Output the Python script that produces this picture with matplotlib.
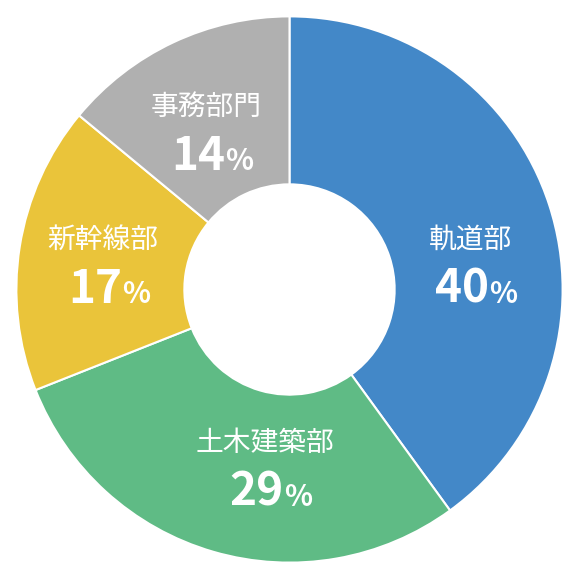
import numpy as np
import matplotlib
matplotlib.use("Agg")
import matplotlib.pyplot as plt

plt.rcParams['font.family'] = ['Noto Sans CJK JP', 'DejaVu Sans']

labels = ["軌道部", "土木建築部", "新幹線部", "事務部門"]
values = [40, 29, 17, 14]
colors = ["#4388C8", "#5FBB85", "#EAC43A", "#B0B0B0"]
# label centres in pixel coords of the reference (x, y from top)
label_px = [(470, 265), (265, 468), (103, 265), (206, 132)]

fig = plt.figure(figsize=(5.79, 5.79), dpi=100)
ax = fig.add_axes([0, 0, 1, 1])
wedges, _ = ax.pie(values, colors=colors, startangle=90, counterclock=False,
                   radius=1, wedgeprops=dict(width=0.615, edgecolor="white", linewidth=1.5))
ax.set_xlim(-1.06, 1.06)
ax.set_ylim(-1.06, 1.06)
ax.set_aspect("equal")
ax.axis("off")

for (px, py), lab, v in zip(label_px, labels, values):
    x, y = (px - 289.5) / 273, -(py - 289.5) / 273
    ax.text(x, y + 0.092, lab, ha="center", va="center", fontsize=20, color="white")
    ax.text(x + 0.07, y - 0.09, str(v), ha="right", va="center", fontsize=33,
            fontweight="bold", color="white")
    ax.text(x + 0.07, y - 0.105, "%", ha="left", va="center", fontsize=21,
            fontweight="bold", color="white")

fig.savefig("out.png", dpi=100)
